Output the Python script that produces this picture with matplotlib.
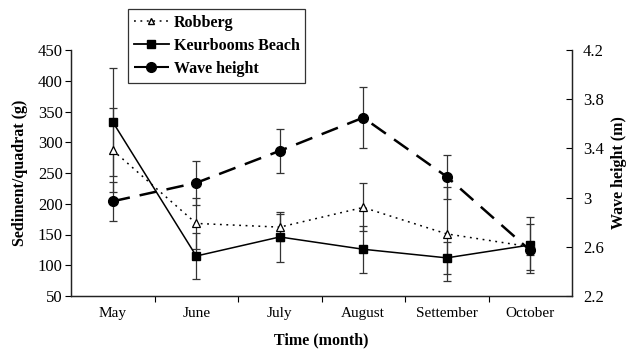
import matplotlib
matplotlib.use("Agg")
import matplotlib.pyplot as plt
from matplotlib.ticker import FuncFormatter
from matplotlib.lines import Line2D

months = ["May", "June", "July", "August", "Settember", "October"]
robberg = [287, 168, 162, 194, 151, 130]
robberg_err = [68, 41, 22, 39, 77, 37]
keurbooms = [333, 115, 146, 126, 112, 133]
keurbooms_err = [88, 38, 41, 38, 26, 46]
wave = [2.97, 3.12, 3.38, 3.65, 3.17, 2.57]
wave_err = [0.16, 0.18, 0.18, 0.25, 0.18, 0.04]

plt.rcParams['font.family'] = ['Liberation Serif', 'DejaVu Serif']

fig = plt.figure(figsize=(6.27, 3.49), dpi=100)
ax = fig.add_axes([71/627, 1-296/349, (572-71)/627, (296-50)/349])
ax2 = ax.twinx()

x = list(range(len(months)))
ecol = '#333333'

ax.errorbar(x, robberg, yerr=robberg_err, fmt='none', ecolor=ecol, elinewidth=0.9, capsize=3, capthick=0.9, zorder=2)
ax.errorbar(x, keurbooms, yerr=keurbooms_err, fmt='none', ecolor=ecol, elinewidth=0.9, capsize=3, capthick=0.9, zorder=2)
ax.plot(x, robberg, linestyle=(0, (1.2, 3)), color='black', linewidth=1.1,
        marker='^', markersize=6, markerfacecolor='white', markeredgecolor='black', markeredgewidth=0.9, zorder=3)
ax.plot(x, keurbooms, linestyle='-', color='black', linewidth=1.1,
        marker='s', markersize=6, markerfacecolor='black', markeredgecolor='black', zorder=3)

ax2.errorbar(x, wave, yerr=wave_err, fmt='none', ecolor=ecol, elinewidth=0.9, capsize=3, capthick=0.9, zorder=2)
ax2.plot(x, wave, linestyle=(0, (7, 4)), color='black', linewidth=1.8,
         marker='o', markersize=7, markerfacecolor='black', markeredgecolor='black', zorder=3)

ax.set_xlim(-0.5, 5.5)
ax.set_ylim(50, 450)
ax.set_yticks(range(50, 451, 50))
ax2.set_ylim(2.2, 4.2)
ax2.set_yticks([2.2, 2.6, 3.0, 3.4, 3.8, 4.2])
ax2.yaxis.set_major_formatter(FuncFormatter(lambda v, p: '%g' % round(v, 1)))

ax.set_xticks([i + 0.5 for i in range(len(months) - 1)])
ax.set_xticklabels([])
ax.set_xticks(x, minor=True)
ax.set_xticklabels(months, minor=True)
ax.tick_params(axis='x', which='minor', length=0, labelsize=11, pad=8)
ax.tick_params(axis='x', which='major', direction='out', length=4, width=0.8)
ax.tick_params(axis='y', direction='out', length=4, width=0.8, labelsize=12, pad=2)
ax2.tick_params(axis='y', direction='in', length=4, width=0.8, labelsize=12, pad=8)

for a in (ax, ax2):
    a.spines['top'].set_visible(False)
    for s in ('left', 'right', 'bottom'):
        a.spines[s].set_linewidth(0.9)
        a.spines[s].set_color('#222222')

ax.set_xlabel("Time (month)", fontsize=11.5, fontweight='bold', labelpad=9)
ax.set_ylabel("Sediment/quadrat (g)", fontsize=11.5, fontweight='bold', labelpad=7)
ax2.set_ylabel("Wave height (m)", fontsize=11.5, fontweight='bold', labelpad=5)

handles = [
    Line2D([], [], linestyle=(0, (1.2, 3)), color='black', linewidth=1.1, marker='^', markersize=5,
           markerfacecolor='white', markeredgecolor='black'),
    Line2D([], [], linestyle='-', color='black', linewidth=1.3, marker='s', markersize=6,
           markerfacecolor='black'),
    Line2D([], [], linestyle=(0, (7, 4)), color='black', linewidth=1.5, marker='o', markersize=7,
           markerfacecolor='black'),
]
labels = ["Robberg", "Keurbooms Beach", "Wave height"]
leg = fig.legend(handles, labels, loc='upper left', bbox_to_anchor=(128/627, 1-9/349),
                 prop={'weight': 'bold', 'size': 11.5}, frameon=True, fancybox=False,
                 edgecolor='black', handlelength=2.2, handletextpad=0.3, borderpad=0.35,
                 labelspacing=0.45, borderaxespad=0)
leg.get_frame().set_linewidth(0.9)

fig.savefig("out.png", dpi=100)
